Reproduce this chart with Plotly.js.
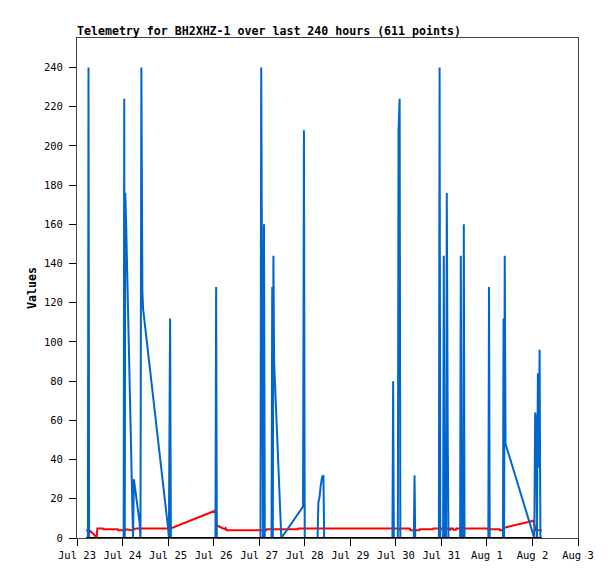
<!DOCTYPE html>
<html>
<head>
<meta charset="utf-8">
<script src="https://cdn.plot.ly/plotly-3.0.1.min.js"></script>
<style>
html,body{margin:0;padding:0;background:#fff;}
#chart{width:615px;height:579px;}
</style>
</head>
<body>
<div id="chart"></div>
<script>
const chartTitle = 'Telemetry for BH2XHZ-1 over last 240 hours (611 points)';
const yAxisTitle = 'Values';

const redTimes = [
  '2023-07-23 04:51','2023-07-23 06:51','2023-07-23 08:42','2023-07-23 10:23','2023-07-23 10:42',
  '2023-07-23 13:37','2023-07-23 13:52','2023-07-23 21:22','2023-07-23 21:38','2023-07-24 01:35',
  '2023-07-24 02:07','2023-07-24 04:13','2023-07-24 05:17','2023-07-24 06:20','2023-07-24 07:23',
  '2023-07-25 01:19','2023-07-26 01:03','2023-07-26 01:35','2023-07-26 03:10','2023-07-26 04:45',
  '2023-07-26 06:04','2023-07-26 06:20','2023-07-26 06:52','2023-07-27 03:42','2023-07-27 03:58',
  '2023-07-27 20:19','2023-07-27 20:35','2023-07-29 22:26','2023-07-29 22:41','2023-07-29 23:13',
  '2023-07-30 01:51','2023-07-30 02:07','2023-07-30 02:32','2023-07-30 07:24','2023-07-30 07:39',
  '2023-07-30 12:24','2023-07-30 12:40','2023-07-30 19:32','2023-07-30 19:47','2023-07-30 23:13',
  '2023-07-30 23:29','2023-07-30 23:45','2023-07-31 04:30','2023-07-31 04:45','2023-07-31 05:01',
  '2023-07-31 06:05','2023-07-31 06:20','2023-07-31 07:40','2023-07-31 07:55','2023-08-01 00:01',
  '2023-08-01 00:16','2023-08-01 06:36','2023-08-01 06:52','2023-08-01 08:43','2023-08-01 08:59',
  '2023-08-02 00:32','2023-08-02 01:04','2023-08-02 01:36','2023-08-02 04:52'
];
const redValues = [
  4.0,3.6,2.0,0.3,4.9,
  4.9,4.4,4.4,3.9,3.9,
  4.4,4.2,3.8,4.6,4.9,
  4.9,14.0,6.5,5.6,5.0,
  4.6,5.0,4.0,4.0,4.5,
  4.5,4.9,4.9,4.0,4.9,
  4.9,3.8,4.9,4.9,4.0,
  4.0,4.5,4.5,4.9,4.9,
  3.8,4.9,4.9,3.8,4.9,
  4.9,4.2,4.2,4.9,4.9,
  4.5,4.5,4.0,4.0,5.2,
  8.8,6.5,4.0,4.0
];

const blueTimes = [
  '2023-07-23 04:51','2023-07-23 05:45','2023-07-23 06:04','2023-07-23 06:23',
  '2023-07-24 00:35','2023-07-24 00:54','2023-07-24 01:10','2023-07-24 01:26','2023-07-24 01:54',
  '2023-07-24 05:07','2023-07-24 05:32','2023-07-24 05:58','2023-07-24 08:58','2023-07-24 09:27',
  '2023-07-24 09:55','2023-07-24 10:27','2023-07-24 10:49','2023-07-25 00:00','2023-07-25 00:25',
  '2023-07-25 01:03','2023-07-25 01:29',
  '2023-07-26 00:57','2023-07-26 01:19','2023-07-26 01:41',
  '2023-07-27 00:41','2023-07-27 01:04','2023-07-27 01:35','2023-07-27 02:01','2023-07-27 02:32','2023-07-27 02:57',
  '2023-07-27 06:30','2023-07-27 06:52','2023-07-27 07:11','2023-07-27 07:30','2023-07-27 07:52',
  '2023-07-27 11:11','2023-07-27 11:40','2023-07-27 23:07','2023-07-27 23:35','2023-07-28 00:00',
  '2023-07-28 06:46','2023-07-28 07:11','2023-07-28 07:49','2023-07-28 08:27','2023-07-28 09:08',
  '2023-07-28 09:52','2023-07-28 10:14',
  '2023-07-29 22:13','2023-07-29 22:35','2023-07-29 22:57',
  '2023-07-30 01:04','2023-07-30 01:26','2023-07-30 02:01','2023-07-30 02:23',
  '2023-07-30 09:30','2023-07-30 09:52','2023-07-30 10:14',
  '2023-07-30 22:41','2023-07-30 23:04','2023-07-30 23:26',
  '2023-07-31 00:54','2023-07-31 01:17','2023-07-31 01:39',
  '2023-07-31 02:29','2023-07-31 02:52','2023-07-31 03:23','2023-07-31 03:45',
  '2023-07-31 09:52','2023-07-31 10:15','2023-07-31 10:37',
  '2023-07-31 11:27','2023-07-31 11:50','2023-07-31 12:12',
  '2023-08-01 00:45','2023-08-01 01:07','2023-08-01 01:29',
  '2023-08-01 08:27','2023-08-01 08:46','2023-08-01 09:02','2023-08-01 09:24','2023-08-01 09:49',
  '2023-08-02 00:58','2023-08-02 01:26','2023-08-02 02:01','2023-08-02 02:23','2023-08-02 02:52',
  '2023-08-02 03:17','2023-08-02 03:46','2023-08-02 04:11','2023-08-02 04:52'
];
const blueValues = [
  0,0,240,0,
  0,224,0,176,160,
  32,0,30,8,0,
  240,126,117,5,0,
  112,0,
  0,128,0,
  0,240,96,0,160,0,
  0,128,0,144,90,
  6,0,16,208,0,
  0,18,21,27,31,
  32,0,
  0,80,0,
  0,208,224,0,
  0,32,0,
  0,240,0,
  0,144,0,
  0,176,48,0,
  0,144,0,
  0,160,0,
  0,128,0,
  0,112,0,144,48,
  0,64,60,0,84,
  36,96,0,0
];

const blackTimes = ['2023-07-23 04:51','2023-08-02 04:52'];
const blackValues = [0,0];

const xRange = ['2023-07-23 00:00','2023-08-03 00:00'];
const yRange = [0,255];

const tickFont = {family:'DejaVu Sans Mono, monospace', size:10.5, color:'#000'};
const boldFont = {family:'DejaVu Sans Mono, monospace', size:11.6, color:'#000', weight:'bold'};

const traces = [
  {x:redTimes, y:redValues, type:'scatter', mode:'lines', line:{color:'#ff0000', width:2}, hoverinfo:'skip'},
  {x:blueTimes, y:blueValues, type:'scatter', mode:'lines', line:{color:'#0066cc', width:2}, hoverinfo:'skip'},
  {x:blackTimes, y:blackValues, type:'scatter', mode:'lines', line:{color:'#000000', width:2}, hoverinfo:'skip'}
];

const layout = {
  width:615, height:579,
  margin:{l:77, r:37, t:38, b:41, pad:0},
  paper_bgcolor:'#ffffff', plot_bgcolor:'#ffffff',
  showlegend:false, hovermode:false,
  title:{text:chartTitle, font:boldFont, x:0, xref:'paper', xanchor:'left', y:1, yref:'paper', yanchor:'bottom', pad:{b:3, l:0}},
  xaxis:{
    type:'date', range:xRange, dtick:86400000, tick0:'2023-07-23', tickformat:'%b %-d',
    showgrid:false, zeroline:false, showline:true, mirror:true, linecolor:'#444', linewidth:1,
    ticks:'outside', ticklen:7, tickcolor:'#000', tickwidth:1, tickfont:tickFont, automargin:false
  },
  yaxis:{
    range:yRange, tick0:0, dtick:20, showgrid:false, zeroline:false,
    showline:true, mirror:true, linecolor:'#444', linewidth:1,
    ticks:'outside', ticklen:7, tickcolor:'#000', tickwidth:1, tickfont:tickFont,
    ticklabelstandoff:4, automargin:false,
    title:{text:yAxisTitle, font:boldFont, standoff:4}
  }
};

Plotly.newPlot('chart', traces, layout, {displayModeBar:false, staticPlot:true});
</script>
</body>
</html>
